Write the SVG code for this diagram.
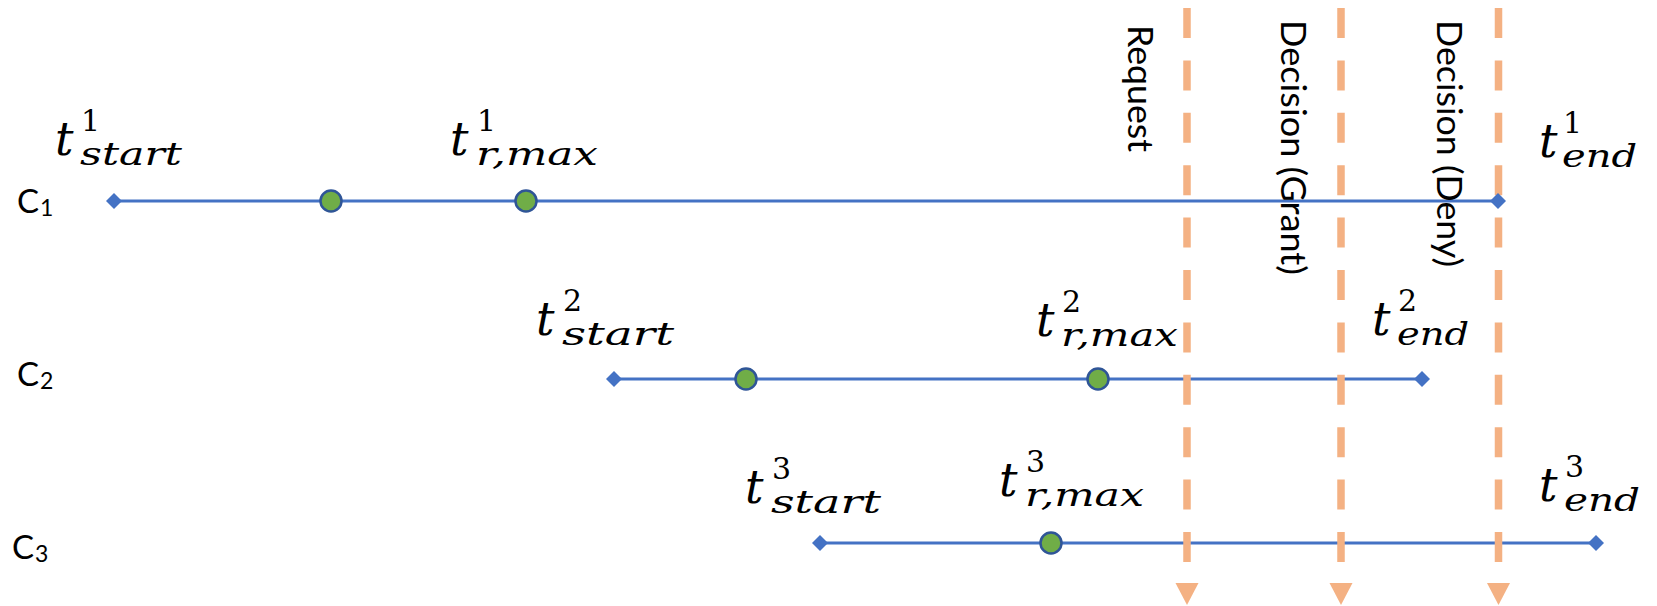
<svg xmlns="http://www.w3.org/2000/svg" width="1657" height="606" viewBox="0 0 1657 606">
<style>
.bg{fill:#ffffff}
.tl{stroke:#4472C4;stroke-width:3.2;fill:none}
.dia{fill:#4472C4}
.dot{fill:#70AD47;stroke:#2F5597;stroke-width:2.5}
.dash{stroke:#F4B183;stroke-width:7.5;stroke-dasharray:30 22.4;fill:none}
.arr{fill:#F4B183}
.t{font-family:"DejaVu Serif",serif;font-style:italic;font-size:46px;fill:#000}
.s{font-family:"DejaVu Serif",serif;font-style:italic;font-size:31px;fill:#000}
.n{font-family:"DejaVu Serif",serif;font-size:30px;fill:#000}
.c{font-family:Lato,"Liberation Sans",sans-serif;font-size:33px;fill:#000}
.cs{font-family:Lato,"Liberation Sans",sans-serif;font-size:23px;fill:#000}
.v{font-family:Lato,"Liberation Sans",sans-serif;font-size:35px;fill:#000}
</style>
<defs>
<path id="dm" d="M-8,0 L0,-8 L8,0 L0,8 Z"/>
</defs>
<rect class="bg" x="0" y="0" width="1657" height="606"/>

<g id="connectors">
<line class="tl" x1="114" y1="201" x2="1498" y2="201"/>
<line class="tl" x1="614" y1="379" x2="1422" y2="379"/>
<line class="tl" x1="820" y1="543" x2="1596" y2="543"/>
<line class="dash" x1="1187" y1="8" x2="1187" y2="562"/>
<line class="dash" x1="1341" y1="8" x2="1341" y2="562"/>
<line class="dash" x1="1498.5" y1="8" x2="1498.5" y2="562"/>
<polygon class="arr" points="1175.5,583 1198.5,583 1187,605"/>
<polygon class="arr" points="1329.5,583 1352.5,583 1341,605"/>
<polygon class="arr" points="1487,583 1510,583 1498.5,605"/>
</g>

<g id="c1-line">
<use href="#dm" class="dia" x="114" y="201"/>
<circle class="dot" cx="331" cy="201" r="10.5"/>
<circle class="dot" cx="526" cy="201" r="10.5"/>
<use href="#dm" class="dia" x="1498" y="201"/>
</g>
<g id="c2-line">
<use href="#dm" class="dia" x="614" y="379"/>
<circle class="dot" cx="746" cy="379" r="10.5"/>
<circle class="dot" cx="1098" cy="379" r="10.5"/>
<use href="#dm" class="dia" x="1422" y="379"/>
</g>
<g id="c3-line">
<use href="#dm" class="dia" x="820" y="543"/>
<circle class="dot" cx="1051" cy="543" r="10.5"/>
<use href="#dm" class="dia" x="1596" y="543"/>
</g>

<g id="c1"><text class="c" x="17" y="213">C</text><text class="cs" x="40" y="216">1</text></g>
<g id="c2"><text class="c" x="17" y="386">C</text><text class="cs" x="40" y="389">2</text></g>
<g id="c3"><text class="c" x="12" y="559">C</text><text class="cs" x="35" y="562">3</text></g>

<g id="request"><text class="v" transform="translate(1128,25) rotate(90)" textLength="127" lengthAdjust="spacingAndGlyphs">Request</text></g>
<g id="grant"><text class="v" transform="translate(1281,20) rotate(90)" textLength="255" lengthAdjust="spacingAndGlyphs">Decision (Grant)</text></g>
<g id="deny"><text class="v" transform="translate(1437,20) rotate(90)" textLength="247" lengthAdjust="spacingAndGlyphs">Decision (Deny)</text></g>

<g id="t1-start"><text class="t" x="55" y="155">t</text><text class="n" x="81" y="131">1</text><text class="s" x="80" y="165" textLength="102" lengthAdjust="spacingAndGlyphs">start</text></g>
<g id="t1-rmax"><text class="t" x="450" y="155">t</text><text class="n" x="477" y="131">1</text><text class="s" x="476" y="165" textLength="122" lengthAdjust="spacingAndGlyphs">r,max</text></g>
<g id="t1-end"><text class="t" x="1539" y="157">t</text><text class="n" x="1563" y="133">1</text><text class="s" x="1562" y="167" textLength="75" lengthAdjust="spacingAndGlyphs">end</text></g>

<g id="t2-start"><text class="t" x="536" y="335">t</text><text class="n" x="563" y="311">2</text><text class="s" x="562" y="345" textLength="112" lengthAdjust="spacingAndGlyphs">start</text></g>
<g id="t2-rmax"><text class="t" x="1036" y="336">t</text><text class="n" x="1062" y="312">2</text><text class="s" x="1061" y="346" textLength="117" lengthAdjust="spacingAndGlyphs">r,max</text></g>
<g id="t2-end"><text class="t" x="1372" y="335">t</text><text class="n" x="1398" y="311">2</text><text class="s" x="1397" y="345" textLength="72" lengthAdjust="spacingAndGlyphs">end</text></g>

<g id="t3-start"><text class="t" x="745" y="503">t</text><text class="n" x="772" y="479">3</text><text class="s" x="771" y="513" textLength="110" lengthAdjust="spacingAndGlyphs">start</text></g>
<g id="t3-rmax"><text class="t" x="999" y="496">t</text><text class="n" x="1026" y="472">3</text><text class="s" x="1025" y="506" textLength="119" lengthAdjust="spacingAndGlyphs">r,max</text></g>
<g id="t3-end"><text class="t" x="1539" y="501">t</text><text class="n" x="1565" y="477">3</text><text class="s" x="1564" y="511" textLength="76" lengthAdjust="spacingAndGlyphs">end</text></g>
</svg>
